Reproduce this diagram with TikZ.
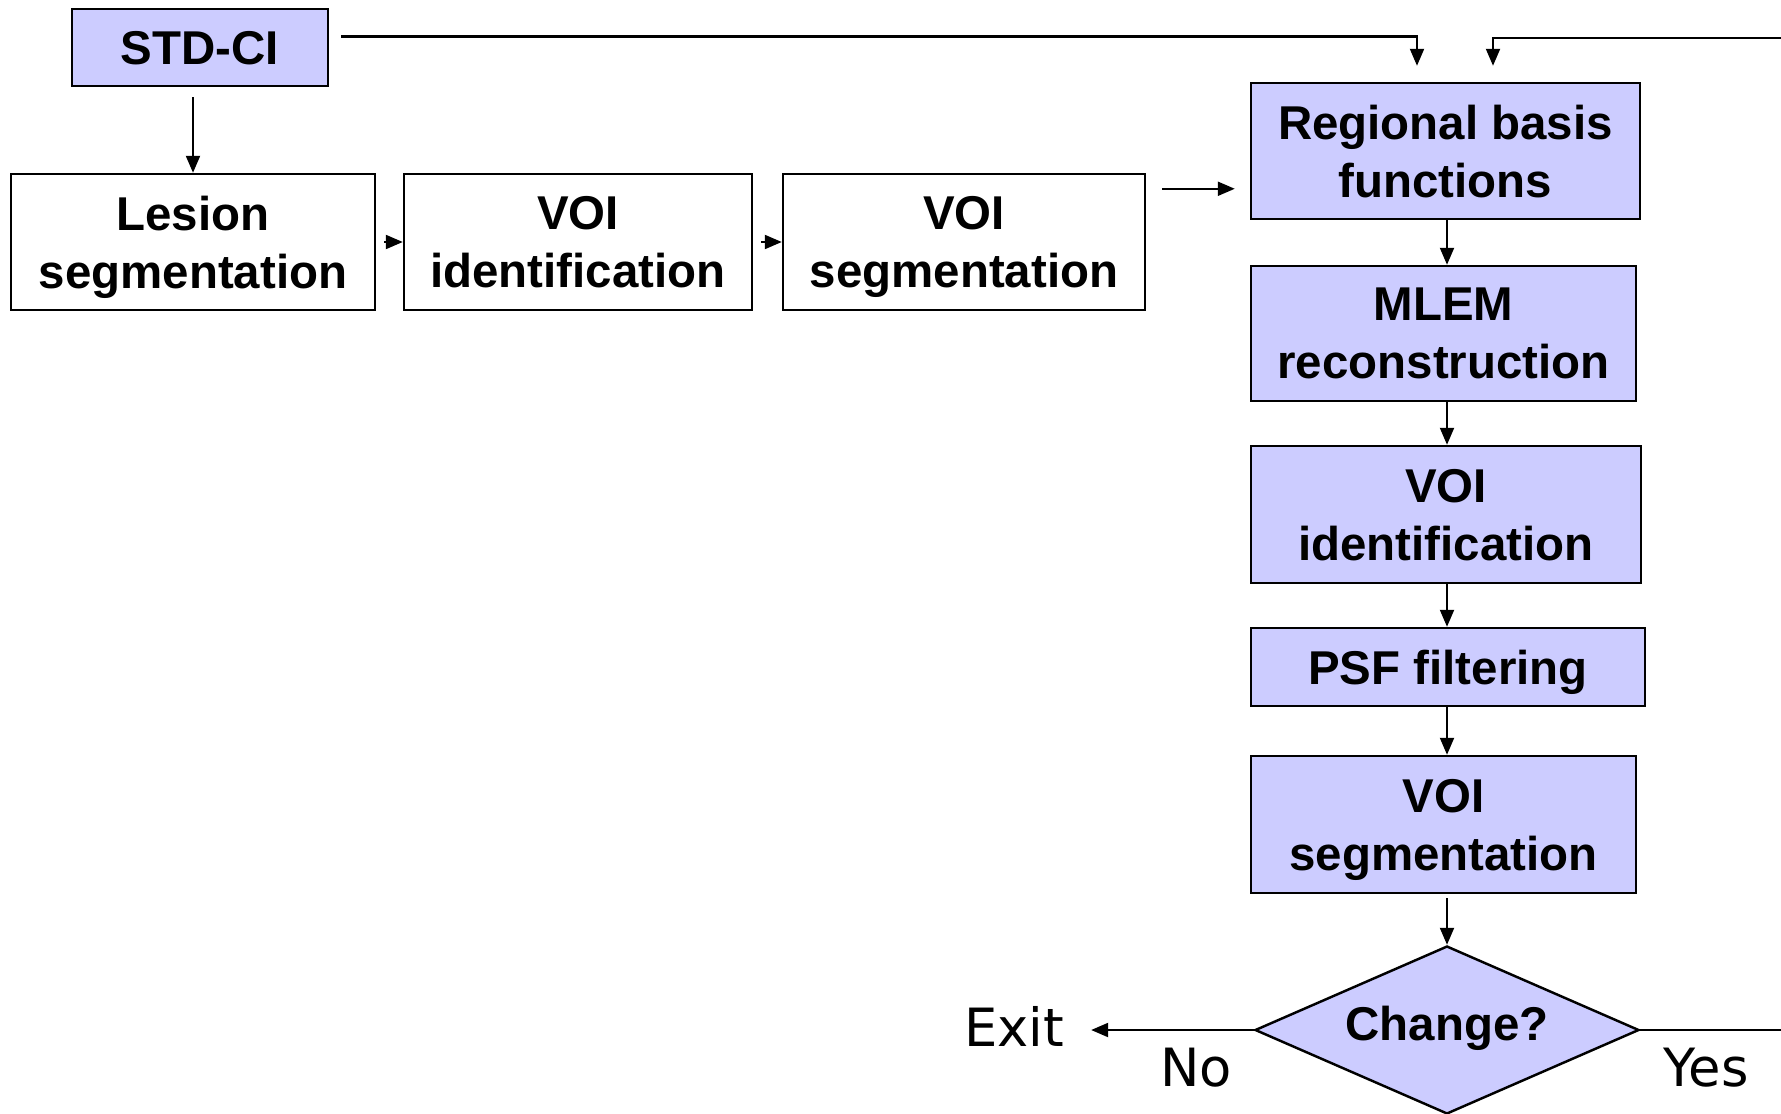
\documentclass[tikz,border=0pt]{standalone}
\usepackage{fontspec}
\setmainfont{Liberation Sans}
\newfontfamily\labelfont{DejaVu Sans}
\usetikzlibrary{shapes.geometric, arrows.meta}
\definecolor{boxblue}{HTML}{CCCCFF}

\begin{document}
\begin{tikzpicture}[line width=0.7pt,
  box/.style={draw, align=center, inner sep=0pt, text depth=0pt, font=\fontsize{13.5}{16.5}\selectfont\bfseries},
  bluebox/.style={box, fill=boxblue},
  arr/.style={line width=0.6pt, -{Triangle[length=0.17cm, width=0.14cm]}},
  lbl/.style={inner sep=0pt, font=\labelfont\fontsize{15}{18}\selectfont}]
  \useasboundingbox (0,0) rectangle (17.81,11.13);

  \node[bluebox, minimum width=2.56cm, minimum height=0.77cm] (std) at (2.00,10.655) {STD-CI};

  \node[box, minimum width=3.64cm, minimum height=1.36cm] (lesion) at (1.93,8.71) {Lesion\\segmentation};
  \node[box, minimum width=3.48cm, minimum height=1.36cm] (voiid) at (5.78,8.71) {VOI\\identification};
  \node[box, minimum width=3.62cm, minimum height=1.36cm] (voiseg) at (9.64,8.71) {VOI\\segmentation};

  \node[bluebox, minimum width=3.89cm, minimum height=1.36cm] (rbf) at (14.455,9.62) {Regional basis\\functions};
  \node[bluebox, minimum width=3.85cm, minimum height=1.35cm] (mlem) at (14.435,7.795) {MLEM\\reconstruction};
  \node[bluebox, minimum width=3.90cm, minimum height=1.37cm] (voiid2) at (14.46,5.985) {VOI\\identification};
  \node[bluebox, minimum width=3.94cm, minimum height=0.78cm] (psf) at (14.48,4.46) {PSF filtering};
  \node[bluebox, minimum width=3.85cm, minimum height=1.37cm] (voiseg2) at (14.435,2.885) {VOI\\segmentation};
  \node[bluebox, diamond, aspect=2.29, text depth=0.14cm, minimum width=3.84cm, minimum height=1.68cm] (change) at (14.47,0.83) {Change?};

  \node[lbl] (exit) at (10.14,0.87) {Exit};
  \node[lbl] (no) at (11.96,0.45) {No};
  \node[lbl] (yes) at (17.06,0.45) {Yes};
  \coordinate (rim) at (18.2,10.75);

  \draw[arr, shorten <=0.1cm] (std.south -| lesion.north) -- (lesion.north);
  \draw[arr, shorten <=0.08cm] (lesion.east) -- (voiid.west);
  \draw[arr, shorten <=0.08cm] (voiid.east) -- (voiseg.west);
  \draw[arr, shorten <=0.16cm, shorten >=0.15cm] ([yshift=-0.16cm]voiseg.north east) -- ([yshift=-0.16cm]voiseg.north east -| rbf.west);
  \draw[arr, shorten <=0.12cm, shorten >=0.16cm] ([yshift=0.11cm]std.east) -| ([xshift=-0.285cm]rbf.north);

  \draw[arr] (rbf.south -| change) -- (mlem.north -| change);
  \draw[arr] (mlem.south -| change) -- (voiid2.north -| change);
  \draw[arr] (voiid2.south -| change) -- (psf.north -| change);
  \draw[arr] (psf.south -| change) -- (voiseg2.north -| change);
  \draw[arr, shorten <=0.04cm] (voiseg2.south -| change) -- (change.north);

  \draw[arr, shorten >=0.26cm] (change.west) -- (change.west -| exit.east);
  \draw[arr, shorten >=0.16cm] (change.east) -| (rim) -| ([xshift=0.475cm]rbf.north);
\end{tikzpicture}
\end{document}
